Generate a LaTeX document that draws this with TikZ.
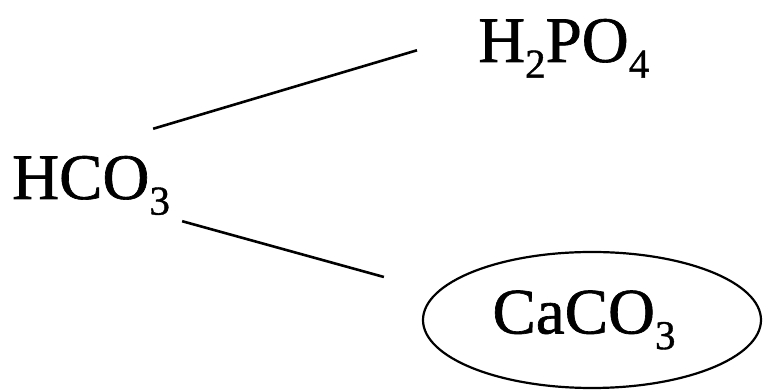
\documentclass[tikz,border=0pt]{standalone}
\usepackage{fontspec}
\setmainfont[FakeBold=1]{Liberation Serif}
\usetikzlibrary{positioning,shapes,shapes.geometric}

\newcommand{\chemsub}[1]{\raisebox{-0.24em}{\fontsize{41}{41}\selectfont #1}}

\begin{document}
\begin{tikzpicture}[x=1pt, y=1pt,
        every node/.style = {inner sep=0pt, font=\fontsize{65}{70}\selectfont},
        bond/.style = {line width=2.6pt}]
        \useasboundingbox (0,0) rectangle (763,390);
        \node(hco) [anchor=base west] at (12,191) {HCO\chemsub{3}};
        \node(h2po) [anchor=base west] at (478,328) {H\chemsub{2}PO\chemsub{4}};
        \node(caco) [ellipse, draw, line width=2.2pt, minimum width=338pt, minimum height=136pt] at (592,70) {\raisebox{3pt}{CaCO\chemsub{3}}\hspace{16pt}\mbox{}};

        \coordinate(upstart) at ([shift={(-17pt,27pt)}]hco.north east);
        \coordinate(upend) at ([shift={(-61pt,-2pt)}]h2po.west);
        \coordinate(downstart) at ([shift={(12pt,-6pt)}]hco.south east);
        \coordinate(downend) at ([shift={(-38pt,43pt)}]caco.west);

        \draw[bond] (upstart) -- (upend);
        \draw[bond] (downstart) -- (downend);
    \end{tikzpicture}
\end{document}
